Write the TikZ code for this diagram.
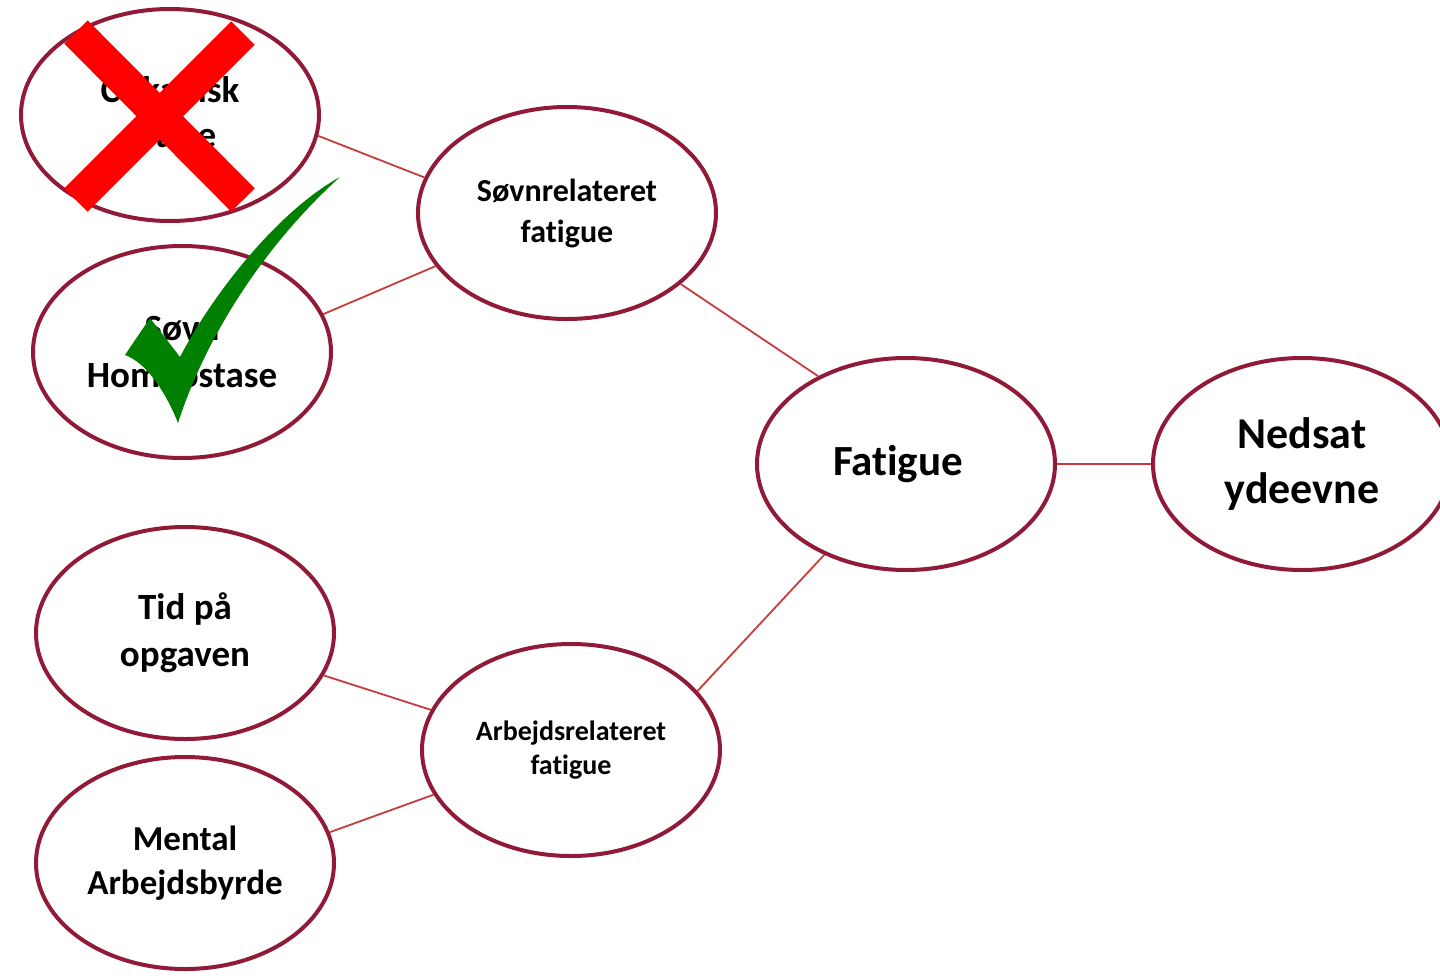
\documentclass[tikz,border=0pt]{standalone}
\usepackage{fontspec}
\setmainfont{Carlito}[Ligatures=NoCommon]
\usetikzlibrary{shapes.geometric}
\definecolor{ering}{RGB}{145,26,56}
\definecolor{linkred}{RGB}{200,60,60}
\definecolor{xred}{RGB}{255,0,0}
\definecolor{chk}{RGB}{0,128,0}
\begin{document}
\begin{tikzpicture}[x=1pt,y=-1pt,
  bubble/.style={ellipse, draw=ering, line width=4pt, fill=white, inner sep=0pt,
    minimum width=298pt, minimum height=212pt, align=center, text=black},
  conn/.style={draw=linkred, line width=1.8pt}]
\useasboundingbox (0,0) rectangle (1440,975);
\fill[white] (0,0) rectangle (1440,975);

\node[bubble, font=\fontsize{37}{45}\selectfont\bfseries] (E1) at (170,115) {Cirkadisk\\rytme};
\node[bubble, font=\fontsize{37}{47}\selectfont\bfseries] (E2) at (182,352) {Søvn\\Homeostase};
\node[bubble, font=\fontsize{32}{41}\selectfont\bfseries] (E3) at (567,213) {Søvnrelateret\\fatigue};
\node[bubble, font=\fontsize{43}{52}\selectfont\bfseries] (E4) at (906,464) {Fatigue\hspace*{16pt}};
\node[bubble, font=\fontsize{44}{55}\selectfont\bfseries] (E5) at (1302,464) {Nedsat\\ydeevne};
\node[bubble, font=\fontsize{28}{34}\selectfont\bfseries] (E6) at (571,750) {Arbejdsrelateret\\fatigue};
\node[bubble, font=\fontsize{37}{47}\selectfont\bfseries] (E7) at (185,633) {Tid på\\opgaven};
\node[bubble, font=\fontsize{35}{44}\selectfont\bfseries] (E8) at (185,863) {Mental\\Arbejdsbyrde};

\draw[conn] (E1.-8) -- (E3.166);
\draw[conn] (E2.15) -- (E3.-158);
\draw[conn] (E3.-32) -- (E4.135);
\draw[conn] (E4.east) -- (E5.west);
\draw[conn] (E4.-132) -- (E6.25);
\draw[conn] (E7.-17) -- (E6.164);
\draw[conn] (E8.12) -- (E6.-162);

\draw[xred, line width=33pt] (76,32) -- (243,200);
\draw[xred, line width=33pt] (243,33) -- (76,200);

\fill[chk] (340,177) .. controls (280,210) and (215,290) .. (180,357)
  -- (150,318) -- (125,355)
  .. controls (145,362) and (165,390) .. (178,423)
  .. controls (208,330) and (270,240) .. (340,177) -- cycle;
\end{tikzpicture}
\end{document}
